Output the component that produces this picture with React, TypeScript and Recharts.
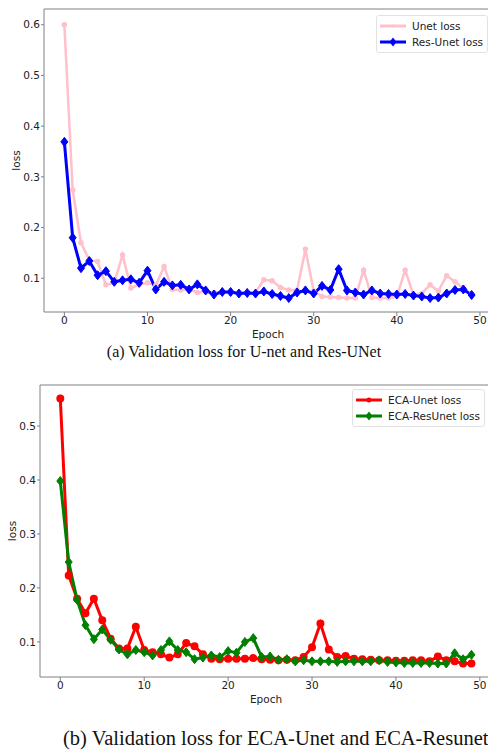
import React from "react";
import { LineChart, Line, XAxis, YAxis, Legend, ReferenceLine } from "recharts";

const epochs = Array.from({ length: 50 }, (_, i) => i);

const unetLoss = [
  0.6, 0.274, 0.17, 0.136, 0.133, 0.087, 0.091, 0.146, 0.081, 0.087,
  0.091, 0.086, 0.123, 0.078, 0.077, 0.078, 0.072, 0.073, 0.072, 0.072,
  0.071, 0.072, 0.072, 0.072, 0.097, 0.095, 0.082, 0.077, 0.077, 0.157,
  0.075, 0.064, 0.063, 0.062, 0.061, 0.061, 0.116, 0.062, 0.061, 0.061,
  0.064, 0.116, 0.067, 0.07, 0.087, 0.075, 0.105, 0.093, 0.08, 0.069,
];

const resUnetLoss = [
  0.369, 0.18, 0.12, 0.134, 0.106, 0.114, 0.093, 0.096, 0.098, 0.091,
  0.115, 0.078, 0.093, 0.086, 0.087, 0.078, 0.088, 0.076, 0.068, 0.073,
  0.073, 0.07, 0.071, 0.07, 0.074, 0.069, 0.065, 0.061, 0.072, 0.076,
  0.07, 0.085, 0.077, 0.118, 0.076, 0.072, 0.068, 0.076, 0.07, 0.069,
  0.068, 0.069, 0.066, 0.064, 0.061, 0.062, 0.07, 0.077, 0.078, 0.067,
];

const ecaUnetLoss = [
  0.551, 0.223, 0.18, 0.153, 0.18, 0.14, 0.106, 0.088, 0.088, 0.128,
  0.085, 0.081, 0.077, 0.071, 0.077, 0.098, 0.092, 0.077, 0.069, 0.068,
  0.069, 0.069, 0.069, 0.07, 0.068, 0.067, 0.066, 0.067, 0.066, 0.072,
  0.09, 0.134, 0.086, 0.072, 0.074, 0.069, 0.068, 0.067, 0.066, 0.066,
  0.065, 0.065, 0.066, 0.066, 0.064, 0.073, 0.066, 0.064, 0.06, 0.06,
];

const ecaResUnetLoss = [
  0.398, 0.248, 0.178, 0.131, 0.105, 0.123, 0.104, 0.086, 0.077, 0.085,
  0.081, 0.075, 0.085, 0.101, 0.085, 0.081, 0.068, 0.071, 0.075, 0.072,
  0.083, 0.08, 0.1, 0.107, 0.072, 0.073, 0.067, 0.068, 0.064, 0.066,
  0.064, 0.064, 0.064, 0.063, 0.064, 0.064, 0.064, 0.064, 0.066, 0.063,
  0.062, 0.061, 0.061, 0.061, 0.061, 0.06, 0.06, 0.079, 0.068, 0.076,
];

const xTicks = [0, 10, 20, 30, 40, 50];
const topYTicks = [0.1, 0.2, 0.3, 0.4, 0.5, 0.6];
const bottomYTicks = [0.1, 0.2, 0.3, 0.4, 0.5];

const topData = epochs.map((e, i) => ({ epoch: e, unet: unetLoss[i], resUnet: resUnetLoss[i] }));
const bottomData = epochs.map((e, i) => ({ epoch: e, ecaUnet: ecaUnetLoss[i], ecaResUnet: ecaResUnetLoss[i] }));

const FONT = "DejaVu Sans";
const AXIS = "#808080";
const TEXT = "#222";

const diamondPath = (cx: number, cy: number, w: number, h: number) =>
  `M${cx},${cy - h} L${cx + w},${cy} L${cx},${cy + h} L${cx - w},${cy} Z`;

const makeDiamond = (color: string, w: number, h: number) => (p: any) => {
  if (p.cx == null || p.cy == null) return <g key={p.index} />;
  return <path key={p.index} d={diamondPath(p.cx, p.cy, w, h)} fill={color} stroke={color} strokeWidth={1} />;
};

// legend order and marker per series
const legendOrder = ["unet", "resUnet", "ecaUnet", "ecaResUnet"];
const markerOf: Record<string, string> = {
  unet: "dot",
  resUnet: "diamond",
  ecaUnet: "circle",
  ecaResUnet: "diamond",
};

function LegendBox({ payload }: any) {
  const items = [...(payload || [])].sort(
    (a: any, b: any) => legendOrder.indexOf(a.dataKey) - legendOrder.indexOf(b.dataKey)
  );
  return (
    <div
      style={{
        background: "rgba(255,255,255,0.9)",
        border: "1px solid #e2e2e2",
        borderRadius: 3,
        padding: "2px 4px 2px 3px",
        fontFamily: FONT,
        fontSize: 10.5,
        color: TEXT,
      }}
    >
      {items.map((item: any) => {
        const m = markerOf[item.dataKey];
        return (
          <div key={item.value} style={{ display: "flex", alignItems: "center", height: 16 }}>
            <svg width={26} height={12} style={{ marginRight: 6 }}>
              <line x1={0} y1={6} x2={26} y2={6} stroke={item.color} strokeWidth={3} />
              {m === "dot" && <circle cx={13} cy={6} r={1.5} fill={item.color} />}
              {m === "circle" && <circle cx={13} cy={6} r={2.5} fill={item.color} />}
              {m === "diamond" && <path d={diamondPath(13, 6, 3.5, 4.5)} fill={item.color} />}
            </svg>
            <span style={{ whiteSpace: "nowrap" }}>{item.value}</span>
          </div>
        );
      })}
    </div>
  );
}

const tickStyle = { fontFamily: FONT, fontSize: 10.5, fill: TEXT };

export default function App() {
  return (
    <div style={{ position: "absolute", left: 0, top: 0, width: 488, height: 751, overflow: "hidden", background: "#fff" }}>
      <div style={{ position: "absolute", left: 0, top: 0 }}>
        <LineChart width={494} height={345} data={topData} margin={{ top: 9, right: 2, left: 14, bottom: 3 }}>
          <XAxis
            dataKey="epoch"
            type="number"
            domain={[-2.45, 51.45]}
            allowDataOverflow
            ticks={xTicks}
            height={30}
            tickSize={4}
            tickMargin={1}
            stroke={AXIS}
            tick={tickStyle}
            label={{ value: "Epoch", position: "insideBottom", offset: 4, style: { fontFamily: FONT, fontSize: 10.5, fill: TEXT } }}
          />
          <YAxis
            type="number"
            domain={[0.0335, 0.631]}
            allowDataOverflow
            ticks={topYTicks}
            tickFormatter={(v: number) => v.toFixed(1)}
            width={30}
            tickSize={3}
            tickMargin={1}
            stroke={AXIS}
            tick={tickStyle}
            label={{ value: "loss", angle: -90, position: "insideLeft", offset: 2, style: { textAnchor: "middle", fontFamily: FONT, fontSize: 10.5, fill: TEXT } }}
          />
          <ReferenceLine y={0.631} stroke={AXIS} ifOverflow="extendDomain" />
          <Legend
            layout="vertical"
            align="center"
            verticalAlign="middle"
            wrapperStyle={{ left: 376, top: 15, width: "auto" }}
            content={<LegendBox />}
          />
          <Line
            dataKey="unet"
            name="Unet loss"
            stroke="#ffc0cb"
            strokeWidth={2.5}
            dot={{ r: 1.5, fill: "#ffc0cb", stroke: "#ffc0cb" }}
            activeDot={false}
            isAnimationActive={false}
          />
          <Line
            dataKey="resUnet"
            name="Res-Unet loss"
            stroke="#0000ff"
            strokeWidth={3}
            dot={makeDiamond("#0000ff", 3.5, 4.5)}
            activeDot={false}
            isAnimationActive={false}
          />
        </LineChart>
      </div>

      <div
        style={{
          position: "absolute",
          left: 0,
          top: 343,
          width: 488,
          textAlign: "center",
          fontFamily: "Liberation Serif",
          fontSize: 16,
          lineHeight: "18px",
          color: "#111",
        }}
      >
        (a) Validation loss for U-net and Res-UNet
      </div>

      <div style={{ position: "absolute", left: 0, top: 376 }}>
        <LineChart width={494} height={334} data={bottomData} margin={{ top: 9, right: 2, left: 10, bottom: 3 }}>
          <XAxis
            dataKey="epoch"
            type="number"
            domain={[-2.42, 51.45]}
            allowDataOverflow
            ticks={xTicks}
            height={30}
            tickSize={4}
            tickMargin={1}
            stroke={AXIS}
            tick={tickStyle}
            label={{ value: "Epoch", position: "insideBottom", offset: 4, style: { fontFamily: FONT, fontSize: 10.5, fill: TEXT } }}
          />
          <YAxis
            type="number"
            domain={[0.035, 0.576]}
            allowDataOverflow
            ticks={bottomYTicks}
            tickFormatter={(v: number) => v.toFixed(1)}
            width={30}
            tickSize={3}
            tickMargin={1}
            stroke={AXIS}
            tick={tickStyle}
            label={{ value: "loss", angle: -90, position: "insideLeft", offset: 2, style: { textAnchor: "middle", fontFamily: FONT, fontSize: 10.5, fill: TEXT } }}
          />
          <ReferenceLine y={0.576} stroke={AXIS} ifOverflow="extendDomain" />
          <Legend
            layout="vertical"
            align="center"
            verticalAlign="middle"
            wrapperStyle={{ left: 352, top: 13, width: "auto" }}
            content={<LegendBox />}
          />
          <Line
            dataKey="ecaUnet"
            name="ECA-Unet loss"
            stroke="#ff0000"
            strokeWidth={3}
            dot={{ r: 2.5, fill: "#ff0000", stroke: "#ff0000" }}
            activeDot={false}
            isAnimationActive={false}
          />
          <Line
            dataKey="ecaResUnet"
            name="ECA-ResUnet loss"
            stroke="#008000"
            strokeWidth={3}
            dot={makeDiamond("#008000", 3.5, 4.5)}
            activeDot={false}
            isAnimationActive={false}
          />
        </LineChart>
      </div>

      <div
        style={{
          position: "absolute",
          left: 63,
          top: 727,
          whiteSpace: "nowrap",
          fontFamily: "Liberation Serif",
          fontSize: 20.5,
          lineHeight: "22px",
          color: "#111",
        }}
      >
        (b) Validation loss for ECA-Unet and ECA-Resunet
      </div>
    </div>
  );
}
